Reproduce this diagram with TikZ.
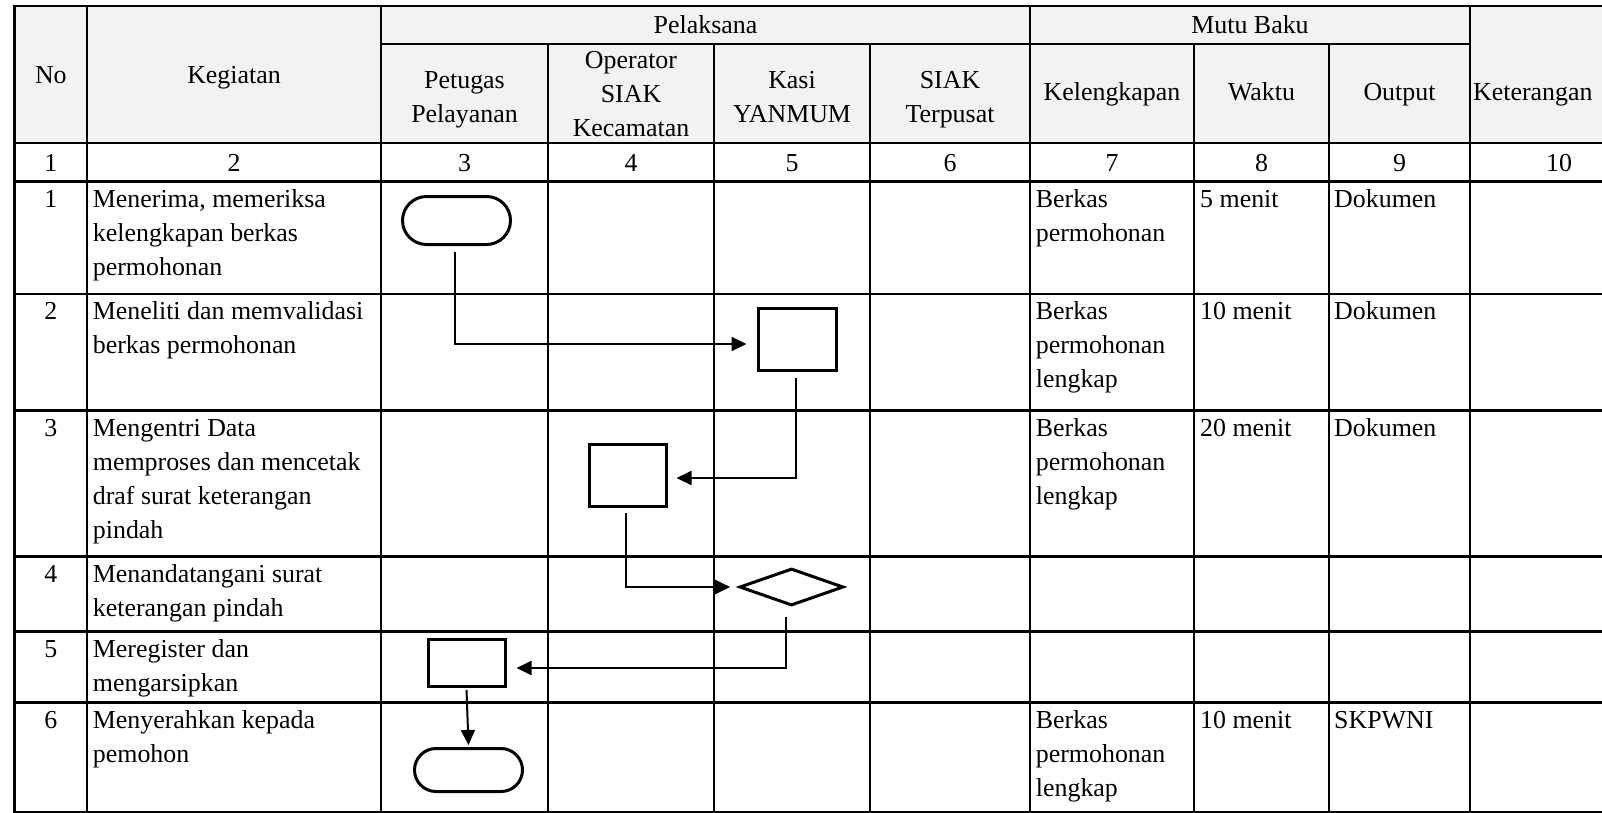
\documentclass[tikz,border=0pt]{standalone}
\usepackage{fontspec}
\setmainfont{Liberation Serif}
\usetikzlibrary{arrows.meta,shapes.geometric}
\newcommand{\tabfont}{\fontsize{25.9}{34}\selectfont}
\definecolor{hdrgray}{HTML}{F2F2F2}
\begin{document}
\begin{tikzpicture}[x=1pt,y=-1pt,
  gridline/.style={line width=2.8pt, line cap=rect},
  txt/.style={inner sep=0pt, font=\tabfont},
  bodytxt/.style={txt, anchor=north west, align=left},
  hdrtxt/.style={txt, anchor=north, align=center},
  shp/.style={draw, line width=3pt, inner sep=0pt},
  term/.style={shp, rectangle, rounded corners=#1},
  procbox/.style={shp, rectangle},
  decis/.style={shp, diamond},
  conn/.style={line width=2pt, -{Triangle[length=15pt,width=14pt]}},
]
\useasboundingbox (0,0) rectangle (1602,812);
\fill[white] (0,0) rectangle (1602,812);
\fill[hdrgray] (14.7,6) rectangle (1610,143);

% grid: horizontals
\draw[gridline] (14.7,6) -- (1610,6);
\draw[gridline] (381,44) -- (1470,44);
\foreach \y in {143,181.5,294,410.5,556.5,631.5,702.5,812}
  \draw[gridline] (14.7,\y) -- (1610,\y);
% grid: verticals
\foreach \x in {14.7,87,381,1030,1470}
  \draw[gridline] (\x,6) -- (\x,812);
\foreach \x in {548,714,870,1194,1329}
  \draw[gridline] (\x,44) -- (\x,812);

% header texts
\node[hdrtxt] (h-no)  at (50.85,59.2) {\strut No};
\node[hdrtxt] (h-keg) at (234,59.2) {\strut Kegiatan};
\node[hdrtxt] (h-pel) at (705.5,9.7) {\strut Pelaksana};
\node[hdrtxt] (h-mut) at (1250,9.7) {\strut Mutu Baku};
\node[hdrtxt] (h-pet) at (464.5,64.7) {\strut Petugas\\Pelayanan};
\node[hdrtxt] (h-opr) at (631,44.2) {\strut Operator\\SIAK\\Kecamatan};
\node[hdrtxt] (h-kas) at (792,64.7) {\strut Kasi\\YANMUM};
\node[hdrtxt] (h-siak) at (950,64.7) {\strut SIAK\\Terpusat};
\node[hdrtxt] (h-kel) at (1112,76.2) {\strut Kelengkapan};
\node[hdrtxt] (h-wak) at (1261.5,76.2) {\strut Waktu};
\node[hdrtxt] (h-out) at (1399.5,76.2) {\strut Output};
\node[txt, anchor=north west] (h-ket) at (1473,76.2) {\strut Keterangan};

% column numbers
\node[hdrtxt] (n1) at (50.85,147) {\strut 1};
\node[hdrtxt] (n2) at (234,147) {\strut 2};
\node[hdrtxt] (n3) at (464.5,147) {\strut 3};
\node[hdrtxt] (n4) at (631,147) {\strut 4};
\node[hdrtxt] (n5) at (792,147) {\strut 5};
\node[hdrtxt] (n6) at (950,147) {\strut 6};
\node[hdrtxt] (n7) at (1112,147) {\strut 7};
\node[hdrtxt] (n8) at (1261.5,147) {\strut 8};
\node[hdrtxt] (n9) at (1399.5,147) {\strut 9};
\node[hdrtxt] (n10) at (1559,147) {\strut 10};

% row 1
\node[hdrtxt] (r1-no) at (50.85,183.2) {\strut 1};
\node[bodytxt] (r1-keg) at (92.7,183.2) {\strut Menerima, memeriksa\\kelengkapan berkas\\permohonan};
\node[bodytxt] (r1-kel) at (1035.7,183.2) {\strut Berkas\\permohonan};
\node[bodytxt] (r1-wak) at (1200,183.2) {\strut 5 menit};
\node[bodytxt] (r1-out) at (1334,183.2) {\strut Dokumen};
% row 2
\node[hdrtxt] (r2-no) at (50.85,295.7) {\strut 2};
\node[bodytxt] (r2-keg) at (92.7,295.7) {\strut Meneliti dan memvalidasi\\berkas permohonan};
\node[bodytxt] (r2-kel) at (1035.7,295.7) {\strut Berkas\\permohonan\\lengkap};
\node[bodytxt] (r2-wak) at (1200,295.7) {\strut 10 menit};
\node[bodytxt] (r2-out) at (1334,295.7) {\strut Dokumen};
% row 3
\node[hdrtxt] (r3-no) at (50.85,412.2) {\strut 3};
\node[bodytxt] (r3-keg) at (92.7,412.2) {\strut Mengentri Data\\memproses dan mencetak\\draf surat keterangan\\pindah};
\node[bodytxt] (r3-kel) at (1035.7,412.2) {\strut Berkas\\permohonan\\lengkap};
\node[bodytxt] (r3-wak) at (1200,412.2) {\strut 20 menit};
\node[bodytxt] (r3-out) at (1334,412.2) {\strut Dokumen};
% row 4
\node[hdrtxt] (r4-no) at (50.85,558.2) {\strut 4};
\node[bodytxt] (r4-keg) at (92.7,558.2) {\strut Menandatangani surat\\keterangan pindah};
% row 5
\node[hdrtxt] (r5-no) at (50.85,633.2) {\strut 5};
\node[bodytxt] (r5-keg) at (92.7,633.2) {\strut Meregister dan\\mengarsipkan};
% row 6
\node[hdrtxt] (r6-no) at (50.85,704.2) {\strut 6};
\node[bodytxt] (r6-keg) at (92.7,704.2) {\strut Menyerahkan kepada\\pemohon};
\node[bodytxt] (r6-kel) at (1035.7,704.2) {\strut Berkas\\permohonan\\lengkap};
\node[bodytxt] (r6-wak) at (1200,704.2) {\strut 10 menit};
\node[bodytxt] (r6-out) at (1334,704.2) {\strut SKPWNI};

% flowchart shapes
\node[term=24pt, minimum width=108pt, minimum height=48pt] (t1) at (456.5,220.5) {};
\node[procbox, minimum width=78pt, minimum height=62pt] (b2) at (797.5,339.5) {};
\node[procbox, minimum width=77pt, minimum height=62pt] (b3) at (628,475.5) {};
\node[decis, minimum width=104pt, minimum height=37pt] (d4) at (791.5,587) {};
\node[procbox, minimum width=77pt, minimum height=47pt] (b5) at (467,663) {};
\node[term=21.5pt, minimum width=108pt, minimum height=43pt] (t6) at (468.5,770) {};

% connectors
\draw[conn] ([xshift=-1.5pt,yshift=-6pt]t1.south) |- ([shift={(-10.5pt,-4.5pt)}]b2.west);
\draw[conn] ([xshift=-1.5pt,yshift=-5.5pt]b2.south) |- ([shift={(8.5pt,-2.5pt)}]b3.east);
\draw[conn] ([xshift=-2.3pt,yshift=-5pt]b3.south) |- ([xshift=-7.8pt]d4.west);
\draw[conn] ([xshift=-6pt,yshift=-9.5pt]d4.south) |- ([shift={(9.5pt,-5pt)}]b5.east);
\draw[conn] ([xshift=-0.5pt,yshift=-2pt]b5.south) -- ([yshift=2pt]t6.north);
\end{tikzpicture}
\end{document}
